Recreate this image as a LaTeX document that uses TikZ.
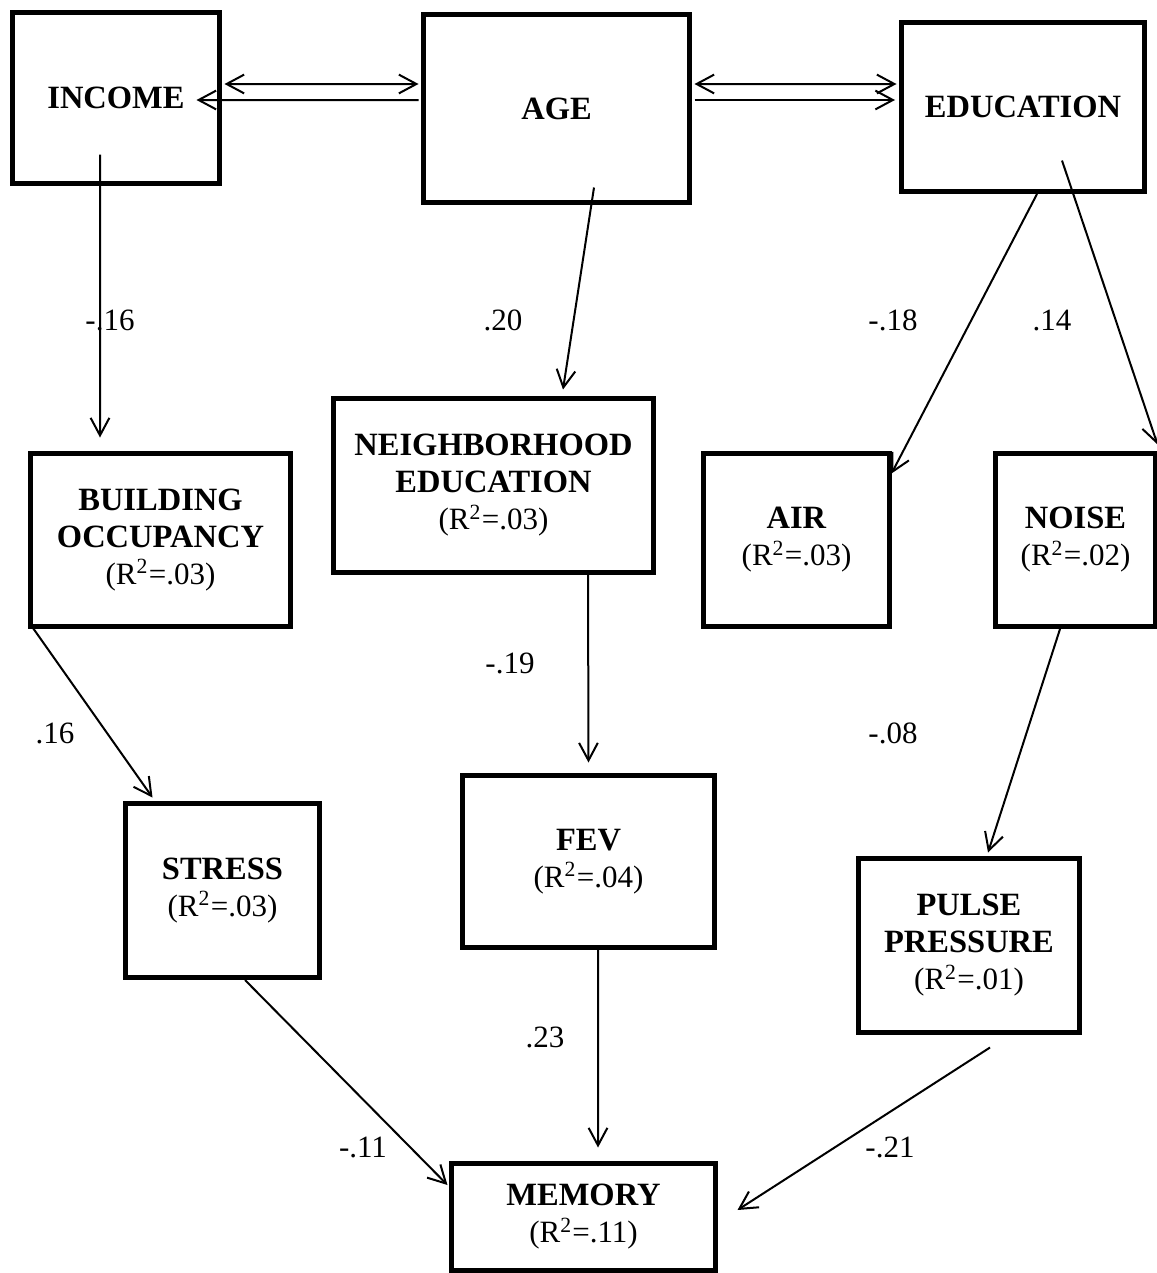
\documentclass[tikz,border=0pt]{standalone}
\usepackage{fontspec}
\setmainfont{Liberation Serif}
\usetikzlibrary{arrows.meta}
\newcommand{\rsq}[1]{{\fontsize{12.4}{14.8}\selectfont(R\textsuperscript{2}=#1)}}
\begin{document}
\begin{tikzpicture}[x=0.4pt,y=-0.4pt,
		box/.style={draw, line width=2pt, align=center, inner sep=0pt,
			font=\fontsize{13}{14.8}\selectfont},
		coef/.style={font=\fontsize{12.4}{14.8}\selectfont},
		link/.style={-{Straight Barb[length=7pt,width=7.5pt]}, line width=0.8pt},
		both/.style={{Straight Barb[length=7pt,width=7.5pt]}-{Straight Barb[length=7pt,width=7.5pt]}, line width=0.8pt}]
	\useasboundingbox (0,0) rectangle (1156,1273);
	% top row
	\node [box, minimum width=82.8pt, minimum height=68.4pt] (income) at (116,98) {\textbf{INCOME}};
	\node [box, minimum width=106.4pt, minimum height=75.2pt] (age) at (556.5,108.5) {\textbf{AGE}};
	\node [box, minimum width=97.2pt, minimum height=67.6pt] (educ) at (1023,107) {\textbf{EDUCATION}};
	% middle row
	\node [box, minimum width=104pt, minimum height=69.2pt] (bldg) at (160.5,540) {\textbf{BUILDING}\\\textbf{OCCUPANCY}\\\rsq{.03}};
	\node [box, minimum width=128pt, minimum height=69.6pt] (nbhd) at (493.5,485.5) {\textbf{NEIGHBORHOOD}\\\textbf{EDUCATION}\\\rsq{.03}};
	\node [box, minimum width=74.4pt, minimum height=69.2pt] (air) at (796.5,540) {\textbf{AIR}\\\rsq{.03}};
	\node [box, minimum width=64pt, minimum height=69.2pt] (noise) at (1075.5,540) {\textbf{NOISE}\\\rsq{.02}};
	% lower row
	\node [box, minimum width=77.6pt, minimum height=69.6pt] (stress) at (222.5,890.5) {\textbf{STRESS}\\\rsq{.03}};
	\node [box, minimum width=100.8pt, minimum height=68.8pt] (fev) at (588.5,861.5) {\textbf{FEV}\\\rsq{.04}};
	\node [box, minimum width=88.4pt, minimum height=69.6pt] (pulse) at (969,945.5) {\textbf{PULSE}\\\textbf{PRESSURE}\\\rsq{.01}};
	\node [box, minimum width=105.6pt, minimum height=42.8pt] (memory) at (583.5,1217) {\textbf{MEMORY}\\\rsq{.11}};
	% correlations
	\draw [both] ([xshift=1pt,yshift=5.6pt]income.east) -- ([xshift=-1pt,yshift=9.8pt]age.west);
	\draw [link] ([xshift=-1pt,yshift=3.4pt]age.west) -- ([xshift=-10.2pt,yshift=-0.8pt]income.east);
	\draw [both] ([xshift=1pt,yshift=9.8pt]age.east) -- ([xshift=-1pt,yshift=9.2pt]educ.west);
	\draw [link] ([xshift=1pt,yshift=3.4pt]age.east) -- ([xshift=-1.6pt,yshift=2.8pt]educ.west);
	% paths
	\draw [link] ([xshift=-6.4pt,yshift=12.6pt]income.south) -- ([xshift=-24.2pt,yshift=5.4pt]bldg.north);
	\draw [link] ([xshift=15pt,yshift=7pt]age.south) -- ([xshift=27.8pt,yshift=2.6pt]nbhd.north);
	\draw [link] ([xshift=5.6pt]educ.south) -- ([xshift=-0.2pt,yshift=-9pt]air.north east);
	\draw [link] ([xshift=15.6pt,yshift=13.4pt]educ.south) -- ([xshift=-0.2pt,yshift=2.6pt]noise.north east);
	\draw [link] ([xshift=1pt,yshift=1.8pt]bldg.south west) -- ([xshift=11.8pt,yshift=1.4pt]stress.north west);
	\draw [link] ([xshift=37.8pt]nbhd.south) -- ([yshift=4.2pt]fev.north);
	\draw [link] ([xshift=-6.2pt]noise.south) -- ([xshift=7.6pt,yshift=1.4pt]pulse.north);
	\draw [link] ([xshift=9pt]stress.south) -- ([xshift=-0.6pt,yshift=12.8pt]memory.west);
	\draw [link] ([xshift=3.8pt]fev.south) -- ([xshift=5.8pt,yshift=5.4pt]memory.north);
	\draw [link] ([xshift=8.4pt,yshift=-5pt]pulse.south) -- ([xshift=7.8pt,yshift=2.8pt]memory.east);
	% coefficients
	\node [coef] (c1) at (110,320) {-.16};
	\node [coef] (c2) at (503,320) {.20};
	\node [coef] (c3) at (893,320) {-.18};
	\node [coef] (c4) at (1052,320) {.14};
	\node [coef] (c5) at (55,733) {.16};
	\node [coef] (c6) at (510,663) {-.19};
	\node [coef] (c7) at (893,733) {-.08};
	\node [coef] (c8) at (545,1037) {.23};
	\node [coef] (c9) at (363,1147) {-.11};
	\node [coef] (c10) at (890,1147) {-.21};
\end{tikzpicture}
\end{document}
